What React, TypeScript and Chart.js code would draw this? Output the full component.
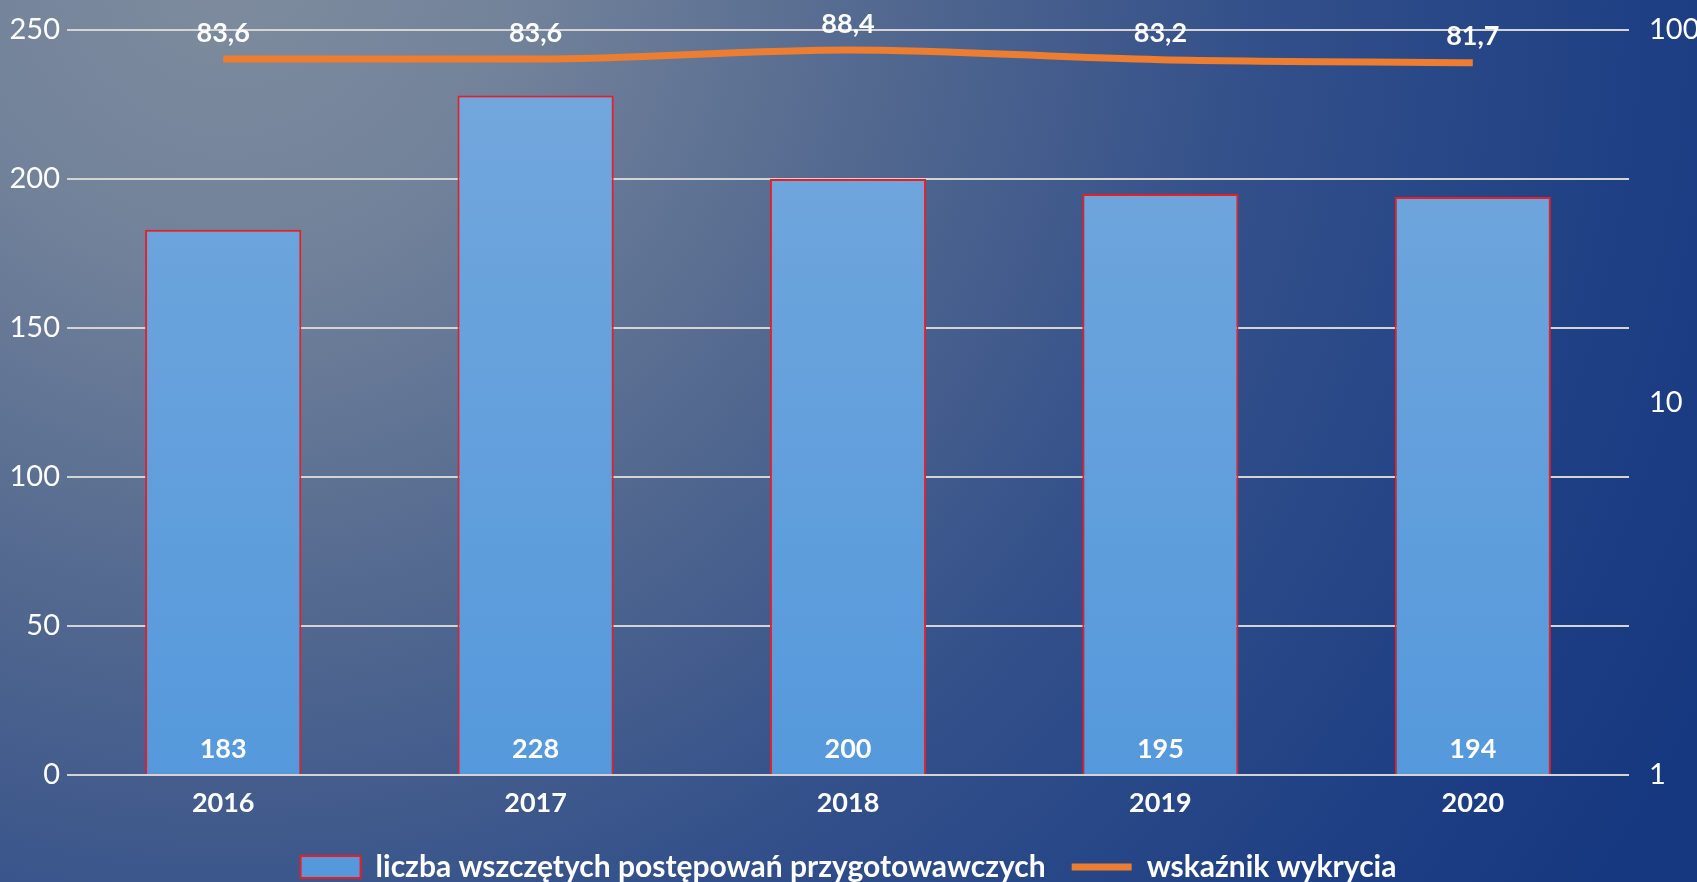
import React, { useEffect, useRef } from "react";
import { Chart, registerables } from "chart.js";

Chart.register(...registerables);

const categories = ["2016", "2017", "2018", "2019", "2020"];
const proceedings = [183, 228, 200, 195, 194];
const detectionRate = [83.6, 83.6, 88.4, 83.2, 81.7];
const leftTicks = [0, 50, 100, 150, 200, 250];
const rightTicks = [1, 10, 100];
const barLabel = "liczba wszczętych postępowań przygotowawczych";
const lineLabel = "wskaźnik wykrycia";

const FONT = "Lato";

const backgroundPlugin = {
  id: "bgGradient",
  beforeDraw(chart: any) {
    const { ctx, width, height } = chart;
    ctx.save();
    const g = ctx.createRadialGradient(230, -40, 0, 230, -40, 1650);
    g.addColorStop(0, "#7f8c9e");
    g.addColorStop(0.18, "#72829a");
    g.addColorStop(0.4, "#52688f");
    g.addColorStop(0.62, "#33508a");
    g.addColorStop(0.85, "#1f4084");
    g.addColorStop(1, "#163880");
    ctx.fillStyle = g;
    ctx.fillRect(0, 0, width, height);
    ctx.restore();
  },
};

const legendShiftPlugin = {
  id: "legendShift",
  afterLayout(chart: any) {
    const lg = chart.legend;
    if (lg) {
      lg.top += 10;
      lg.bottom += 10;
    }
  },
};

const fmt = (v: number) => String(v).replace(".", ",");

const valueLabelsPlugin = {
  id: "valueLabels",
  afterDatasetsDraw(chart: any) {
    const { ctx } = chart;
    ctx.save();
    ctx.fillStyle = "#ffffff";
    ctx.textAlign = "center";
    ctx.textBaseline = "middle";
    ctx.font = `bold 27px ${FONT}`;
    chart.data.datasets.forEach((ds: any, i: number) => {
      const meta = chart.getDatasetMeta(i);
      meta.data.forEach((el: any, j: number) => {
        const v = ds.data[j];
        if (ds.type === "bar") {
          ctx.fillText(fmt(v), el.x, el.base - 25);
        } else {
          ctx.fillText(fmt(v), el.x, el.y - 26);
        }
      });
    });
    ctx.restore();
  },
};

export default function App() {
  const ref = useRef<HTMLCanvasElement | null>(null);

  useEffect(() => {
    document.body.style.margin = "0";
    document.body.style.overflow = "hidden";
    if (!ref.current) return;
    Chart.defaults.font.family = FONT;

    const barGradient = (c: any) => {
      const ca = c.chart.chartArea;
      if (!ca) return "#62a0dc";
      const g = c.chart.ctx.createLinearGradient(0, ca.top, 0, ca.bottom);
      g.addColorStop(0, "#74a8dc");
      g.addColorStop(1, "#5599dc");
      return g;
    };

    const chart = new Chart(ref.current, {
      data: {
        labels: categories,
        datasets: [
          {
            type: "bar",
            label: barLabel,
            data: proceedings,
            backgroundColor: barGradient,
            borderColor: "#ea1c24",
            borderWidth: 2,
            barPercentage: 0.5,
            categoryPercentage: 1,
            yAxisID: "y",
            pointStyle: "rect",
          } as any,
          {
            type: "line",
            label: lineLabel,
            data: detectionRate,
            borderColor: "#ed7d31",
            backgroundColor: "#ed7d31",
            borderWidth: 7,
            pointRadius: 0,
            pointHoverRadius: 0,
            cubicInterpolationMode: "monotone",
            yAxisID: "y2",
            pointStyle: "line",
          } as any,
        ],
      },
      options: {
        animation: false,
        responsive: true,
        maintainAspectRatio: false,
        layout: { padding: { top: 30, bottom: 0, left: 0, right: 0 } },
        plugins: {
          tooltip: { enabled: false },
          legend: {
            position: "bottom",
            labels: {
              color: "#ffffff",
              font: { family: FONT, size: 30, weight: "bold" },
              usePointStyle: true,
              pointStyleWidth: 60,
              boxHeight: 22,
              padding: 26,
            },
          },
        },
        scales: {
          x: {
            grid: { display: false, drawTicks: false },
            border: { display: false },
            ticks: {
              color: "#ffffff",
              font: { family: FONT, size: 27, weight: "bold" },
              padding: 12,
            },
            afterFit(s: any) {
              s.height = 41;
              s.paddingLeft = 0;
              s.paddingRight = 0;
            },
          },
          y: {
            position: "left",
            min: 0,
            max: 250,
            grid: { color: "#d4d4d4", lineWidth: 2, drawTicks: false },
            border: { display: false },
            afterBuildTicks(s: any) {
              s.ticks = leftTicks.map((v) => ({ value: v }));
            },
            ticks: {
              color: "#ffffff",
              font: { family: FONT, size: 29 },
              padding: 7,
            },
            afterFit(s: any) {
              s.width = 67;
              s.paddingTop = 0;
              s.paddingBottom = 0;
            },
          },
          y2: {
            type: "logarithmic",
            position: "right",
            min: 1,
            max: 100,
            grid: { display: false, drawTicks: false },
            border: { display: false },
            afterBuildTicks(s: any) {
              s.ticks = rightTicks.map((v) => ({ value: v }));
            },
            ticks: {
              color: "#ffffff",
              font: { family: FONT, size: 29 },
              padding: 20,
              callback: (v: any) => String(v),
            },
            afterFit(s: any) {
              s.width = 68;
              s.paddingTop = 0;
              s.paddingBottom = 0;
            },
          },
        },
      } as any,
      plugins: [backgroundPlugin, legendShiftPlugin, valueLabelsPlugin],
    });
    return () => chart.destroy();
  }, []);

  return (
    <div style={{ width: "1697px", height: "882px", position: "relative" }}>
      <canvas ref={ref} />
    </div>
  );
}
